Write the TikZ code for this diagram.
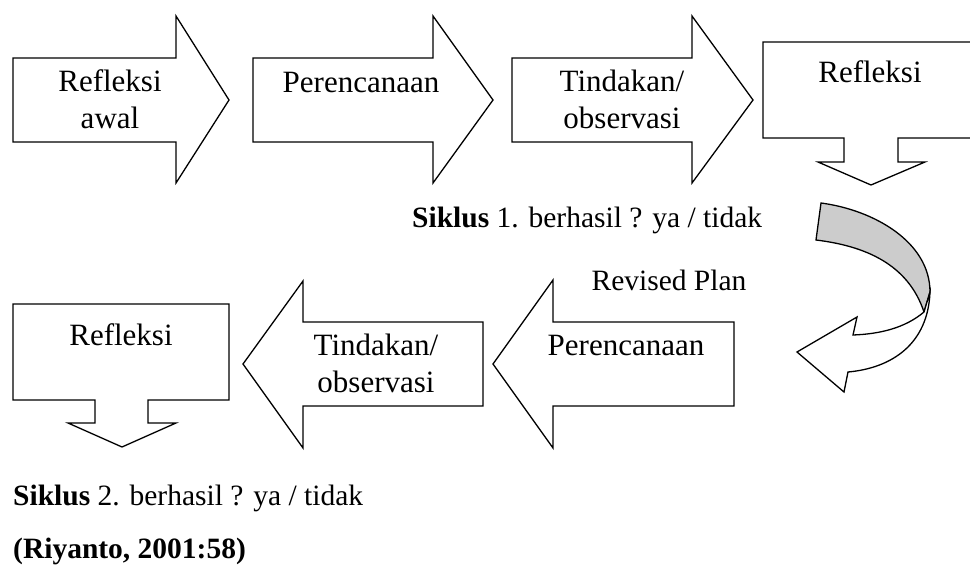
\documentclass[tikz,border=0pt]{standalone}
\usepackage{fontspec}
\setmainfont{Liberation Serif}
\usetikzlibrary{positioning}
\definecolor{rbgrey}{HTML}{CCCCCC}
\newcommand{\arrowtxt}{\fontsize{31}{37}\selectfont}
\newcommand{\notetxt}{\fontsize{29.5}{34}\selectfont}

\begin{document}
\begin{tikzpicture}[
  x=1pt,y=-1pt,
  blk/.style={draw,line width=1.3pt,line join=miter,fill=white},
  lbl/.style={font=\arrowtxt,align=center,inner sep=0pt,anchor=base},
  note/.style={font=\notetxt,inner sep=0pt,anchor=base west}]
\useasboundingbox (0,0) rectangle (970,565);
% row 1: arrows to the right
\draw[blk] (13,58) -- (176,58) -- (176,16) -- (229,100) -- (176,183) -- (176,142) -- (13,142) -- cycle;
\draw[blk] (253,58) -- (433,58) -- (433,16) -- (493,100) -- (433,183) -- (433,142) -- (253,142) -- cycle;
\draw[blk] (512,58) -- (692,58) -- (692,16) -- (753,100) -- (692,183) -- (692,142) -- (512,142) -- cycle;
\draw[blk] (763,42) -- (985,42) -- (985,138) -- (898,138) -- (898,162) -- (925,162) -- (871,185)
  -- (818,162) -- (844,162) -- (844,138) -- (763,138) -- cycle;
\node[lbl] (reflAwal) at (110,128) {Refleksi\\awal};
\node[lbl] (plan1) at (361,92) {Perencanaan};
\node[lbl] (act1) at (622,128) {Tindakan/\\observasi};
\node[lbl] (refl1) at (870,82) {Refleksi};
\node[note] (cyc1) at (412,227) {\textbf{Siklus} 1. berhasil ? ya / tidak};
% turning ribbon
\draw[blk,fill=rbgrey] (821,203) .. controls (874,210) and (930,242) .. (930,292)
  -- (924,312) .. controls (908,264) and (865,246) .. (816,240) -- cycle;
\draw[blk] (924,312) .. controls (905,328) and (880,334) .. (853,335) -- (857,317) -- (797,352)
  -- (844,392) -- (848,372) .. controls (892,368) and (928,344) .. (930,292) -- cycle;
\node[note,anchor=base] (revPlan) at (669,290) {Revised Plan};
% row 2: arrows to the left
\draw[blk] (734,322) -- (553,322) -- (553,280) -- (493,364) -- (553,448) -- (553,406) -- (734,406) -- cycle;
\draw[blk] (483,322) -- (303,322) -- (303,281) -- (243,364) -- (303,448) -- (303,406) -- (483,406) -- cycle;
\draw[blk] (13,304) -- (229,304) -- (229,400) -- (148,400) -- (148,423) -- (176,423) -- (122,447)
  -- (68,423) -- (95,423) -- (95,400) -- (13,400) -- cycle;
\node[lbl] (plan2) at (626,355) {Perencanaan};
\node[lbl] (act2) at (376,392) {Tindakan/\\observasi};
\node[lbl] (refl2) at (121,345) {Refleksi};
\node[note] (cyc2) at (13,505) {\textbf{Siklus} 2. berhasil ? ya / tidak};
\node[note] (src) at (13,558) {\textbf{(Riyanto, 2001:58)}};
\end{tikzpicture}
\end{document}
